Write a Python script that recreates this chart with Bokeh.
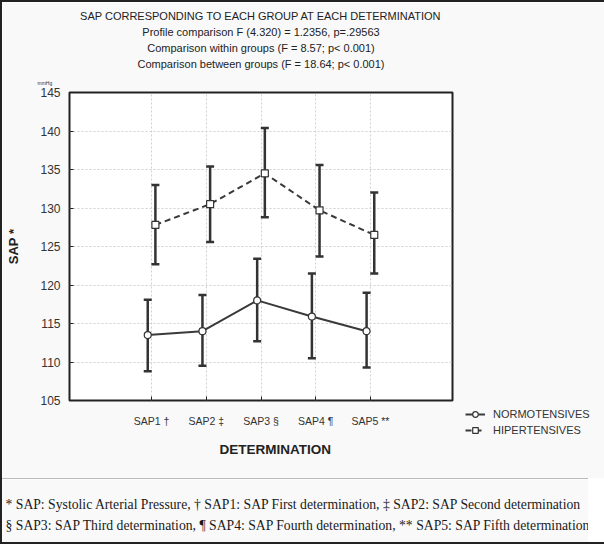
from bokeh.plotting import figure
from bokeh.models import (ColumnDataSource, FactorRange, Range1d, Whisker, TeeHead,
                          Legend, LegendItem, Title, Label, FixedTicker)
from bokeh.transform import dodge
from bokeh.layouts import column
from bokeh.embed import file_html
from bokeh.resources import INLINE

# ---------------- data ----------------
categories = ["SAP1 †", "SAP2 ‡", "SAP3 §", "SAP4 ¶", "SAP5 **"]
normo_mean = [113.5, 114.0, 118.0, 115.9, 114.0]
normo_upper = [118.1, 118.7, 123.4, 121.5, 119.0]
normo_lower = [108.8, 109.5, 112.7, 110.5, 109.3]
hiper_mean = [127.8, 130.5, 134.5, 129.7, 126.5]
hiper_upper = [133.0, 135.4, 140.4, 135.6, 132.0]
hiper_lower = [122.7, 125.6, 128.8, 123.7, 121.5]
y_ticks = [105, 110, 115, 120, 125, 130, 135, 140, 145]
series_names = ["NORMOTENSIVES", "HIPERTENSIVES"]
title_lines = [
    "SAP CORRESPONDING TO EACH GROUP AT EACH DETERMINATION",
    "Profile comparison F (4.320) = 1.2356, p=.29563",
    "Comparison within groups (F = 8.57; p< 0.001)",
    "Comparison between groups (F = 18.64; p< 0.001)",
]
footnotes = [
    "* SAP: Systolic Arterial Pressure, † SAP1: SAP First determination, ‡ SAP2: SAP Second determination",
    "§ SAP3: SAP Third determination, ¶ SAP4: SAP Fourth determination, ** SAP5: SAP Fifth determination",
]

INK = "#333333"
SANS = "Liberation Sans"
BG = "#f9f9f9"

src = ColumnDataSource(dict(cat=categories,
                            nm=normo_mean, nu=normo_upper, nl=normo_lower,
                            hm=hiper_mean, hu=hiper_upper, hl=hiper_lower))

p = figure(x_range=FactorRange(factors=categories, range_padding=1.0, range_padding_units="absolute"),
           y_range=Range1d(105, 145),
           frame_width=383, frame_height=308,
           min_border_left=67, min_border_right=136, min_border_top=90, min_border_bottom=78,
           output_backend="svg", toolbar_location=None, frame_align=False,
           background_fill_color="white", border_fill_color=BG,
           outline_line_color="#222222", outline_line_width=2)

# axes
xa = p.xaxis[0]
xa.axis_line_color = None
xa.major_tick_in = 4
xa.major_tick_out = 0
xa.major_tick_line_color = "#222222"
xa.major_label_text_font = SANS
xa.major_label_text_font_size = "10.5px"
xa.major_label_text_color = INK
xa.major_label_standoff = 14

ya = p.yaxis[0]
ya.ticker = FixedTicker(ticks=y_ticks)
ya.axis_line_color = None
ya.major_tick_in = 4
ya.major_tick_out = 0
ya.minor_tick_line_color = None
ya.major_tick_line_color = "#222222"
ya.major_label_text_font = SANS
ya.major_label_text_font_size = "12px"
ya.major_label_text_color = INK
ya.major_label_standoff = 9
ya.axis_label = "SAP *"
ya.axis_label_text_font = SANS
ya.axis_label_text_font_style = "bold"
ya.axis_label_text_font_size = "13px"
ya.axis_label_text_color = "#222222"
ya.axis_label_standoff = 16

p.xgrid.grid_line_color = "#d0d0d0"
p.xgrid.grid_line_dash = "2 2"
p.ygrid.ticker = FixedTicker(ticks=y_ticks)
p.ygrid.grid_line_color = "#d0d0d0"
p.ygrid.grid_line_dash = "2 2"

xn = dodge("cat", -0.07, range=p.x_range)
xh = dodge("cat", 0.07, range=p.x_range)

for base, up, lo in ((xn, "nu", "nl"), (xh, "hu", "hl")):
    w = Whisker(base=base, upper=up, lower=lo, source=src, level="underlay",
                line_color=INK, line_width=2.5,
                upper_head=TeeHead(size=8, line_color=INK, line_width=2.5),
                lower_head=TeeHead(size=8, line_color=INK, line_width=2.5))
    p.add_layout(w)

ln = p.line(x=xn, y="nm", source=src, line_color="#3a3a3a", line_width=2)
lh = p.line(x=xh, y="hm", source=src, line_color="#3a3a3a", line_width=2, line_dash="6 4")
sn = p.scatter(x=xn, y="nm", source=src, marker="circle", size=7,
               fill_color="white", line_color=INK, line_width=1.2)
sh = p.scatter(x=xh, y="hm", source=src, marker="square", size=7,
               fill_color="white", line_color=INK, line_width=1.2)

legend = Legend(items=[LegendItem(label=series_names[0], renderers=[ln, sn]),
                       LegendItem(label=series_names[1], renderers=[lh, sh])],
                location=(13, -37), background_fill_alpha=0, border_line_color=None,
                label_text_font=SANS, label_text_font_size="11px", label_text_color=INK,
                glyph_width=20, glyph_height=14, label_height=14, spacing=2,
                padding=0, margin=0, label_standoff=8)
p.add_layout(legend, "right")

# titles above the frame (first added sits closest to the frame)
p.add_layout(Title(text="mmHg", align="left", offset=-32, standoff=14,
                   text_font=SANS, text_font_size="5px", text_font_style="normal",
                   text_color=INK), "above")
for t in reversed(title_lines):
    p.add_layout(Title(text=t, align="center", standoff=2,
                       text_font=SANS, text_font_size="11px", text_font_style="normal",
                       text_color="#222222"), "above")

p.add_layout(Title(text="DETERMINATION", align="left", offset=150, standoff=21,
                   text_font=SANS, text_font_size="13.5px", text_font_style="bold",
                   text_color="#222222"), "below")

# footnote panel (its frame covers the whole panel)
f = figure(width=586, height=64, x_range=Range1d(0, 586), y_range=Range1d(0, 64),
           x_axis_type=None, y_axis_type=None, min_border=0, frame_align=False,
           output_backend="svg", toolbar_location=None,
           background_fill_color=BG, border_fill_color=BG,
           outline_line_color=None, styles={"border-top": "1px solid #bbbbbb"})
f.grid.visible = False
for i, t in enumerate(footnotes):
    f.add_layout(Label(x=3, y=39 - 21 * i, text=t, text_baseline="middle",
                       text_font="Liberation Serif", text_font_size="13.7px",
                       text_color="#1a1a1a"))

page = column(p, f, spacing=0, styles={"border": "2px solid #222222"})

open("out.html", "w").write(file_html(page, INLINE))
